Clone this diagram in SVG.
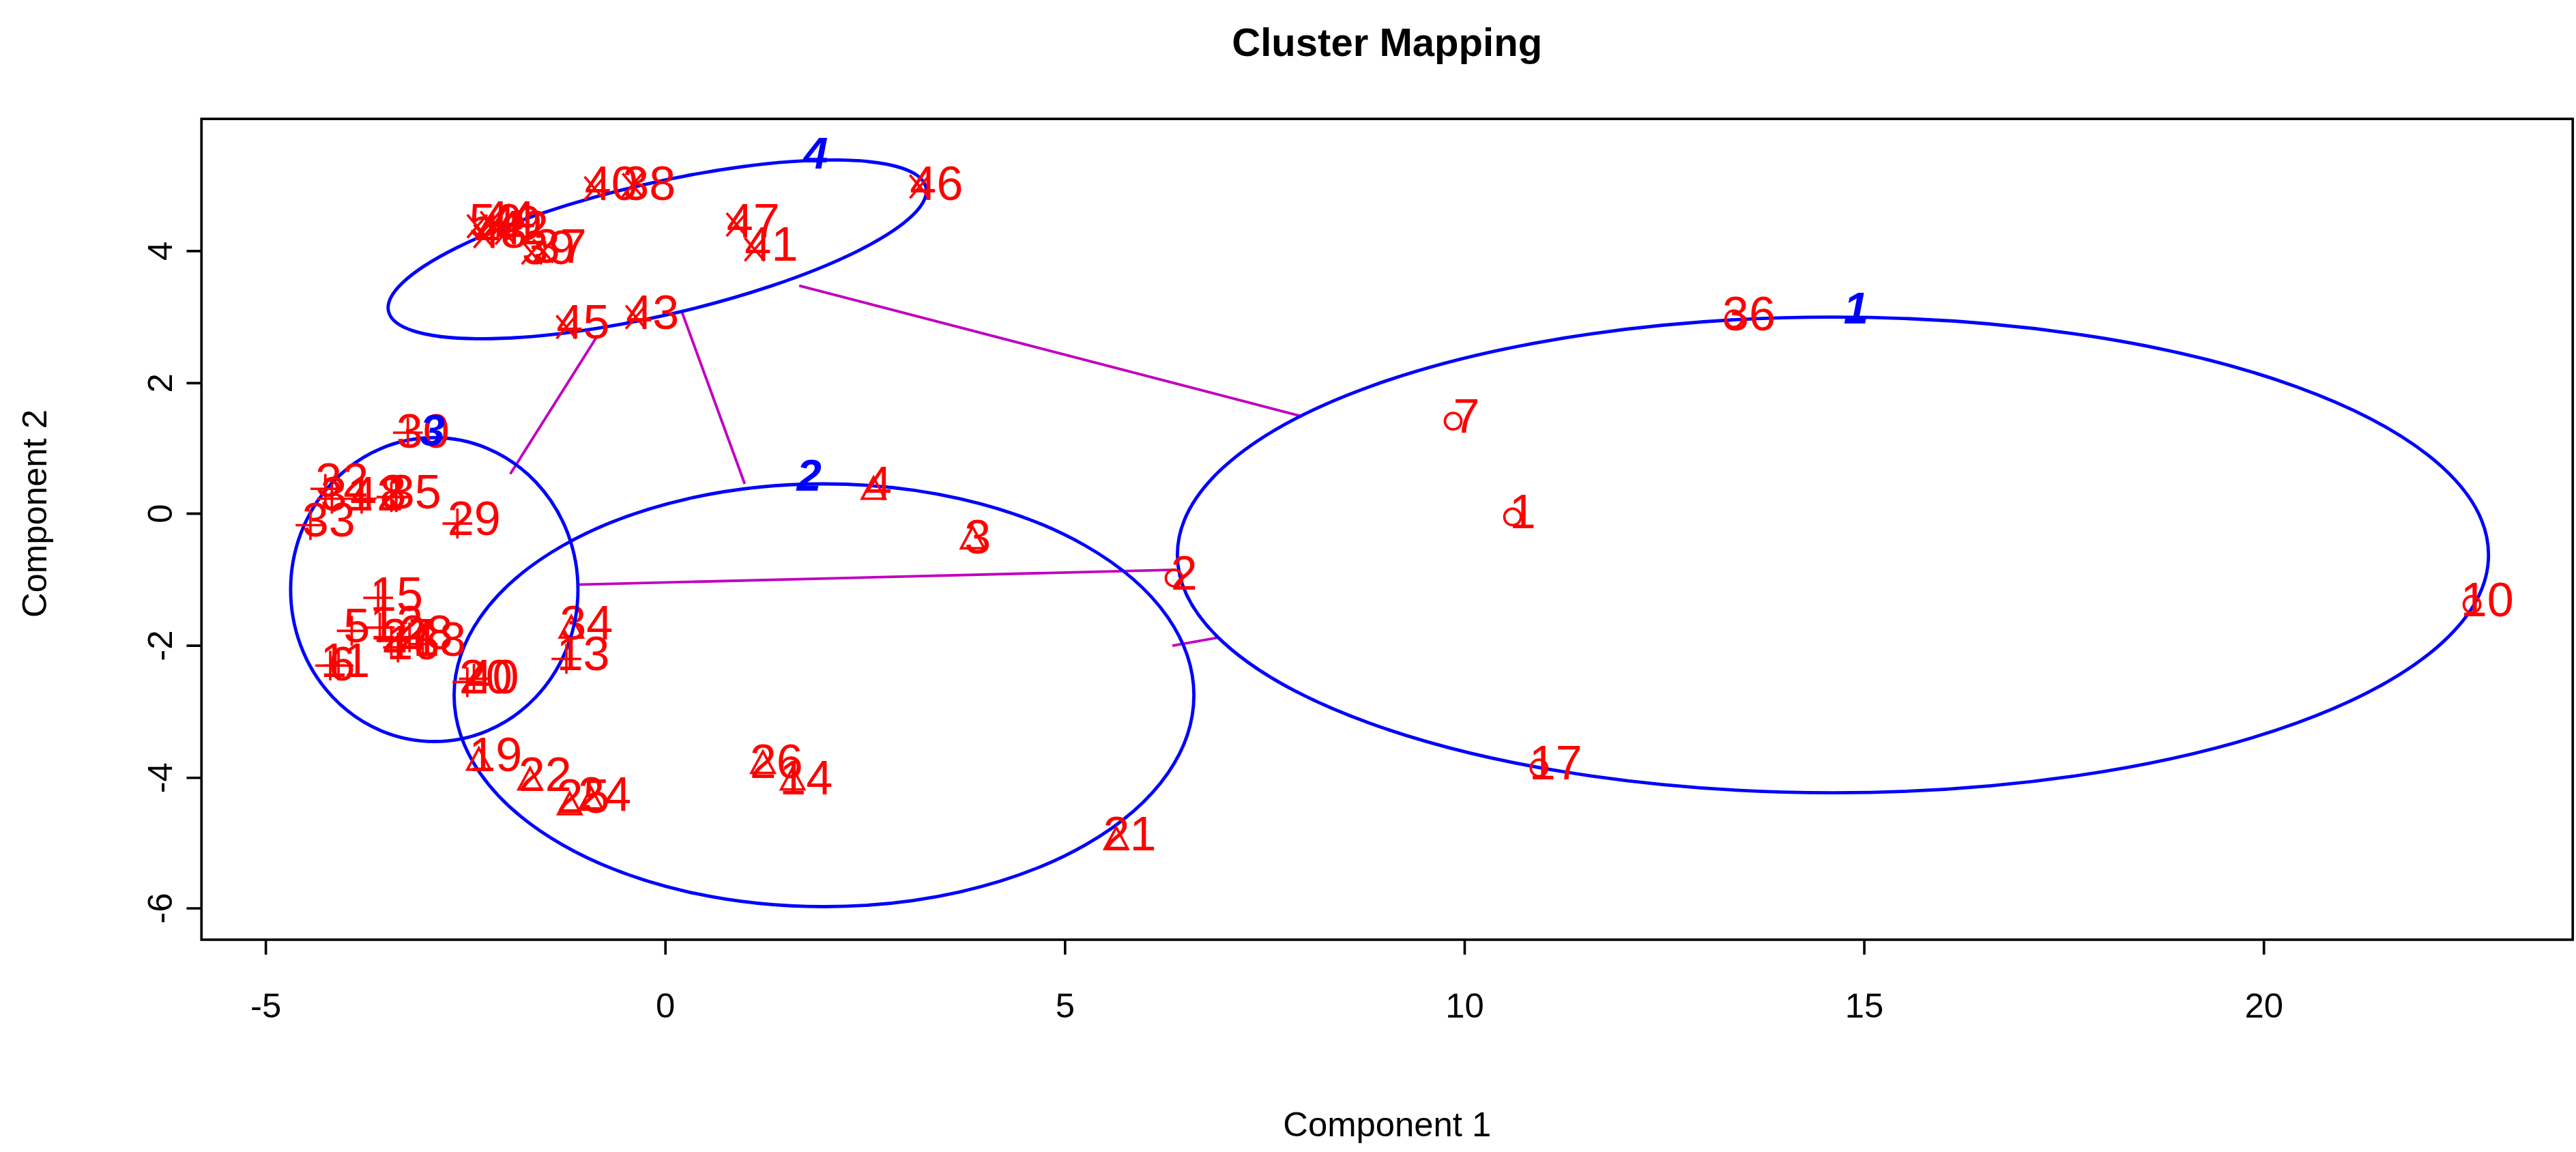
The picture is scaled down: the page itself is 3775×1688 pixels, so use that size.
<svg xmlns="http://www.w3.org/2000/svg" width="3775" height="1688" viewBox="0 0 3775 1688">
<style>
text{font-family:"Liberation Sans",Arial,sans-serif}
.t{font-size:24px;font-weight:bold;text-anchor:middle}
.ax{font-size:21px;text-anchor:middle}
.tk{font-size:21px;text-anchor:middle}
.el{fill:none;stroke:#0000FF;stroke-width:2}
.cn{stroke:#C000C0;stroke-width:1.6;fill:none}
.cl{font-size:27px;font-weight:bold;font-style:italic;fill:#0000FF;text-anchor:middle}
.lb{font-size:29px;fill:#FF0000}
.m{fill:none;stroke:#FF0000;stroke-width:1.5}
.ln{stroke:#000;stroke-width:1.5;fill:none}
</style>
<defs>
<circle id="mo" class="m" r="5"/>
<path id="mt" class="m" d="M-7,6 L7,6 L0,-7 Z"/>
<path id="mp" class="m" d="M-9,0 H9 M0,-9 V9"/>
<path id="mx" class="m" d="M-6,-7 L6,7 M-6,7 L6,-7"/>
</defs>
<rect width="3775" height="1688" fill="#fff"/>
<g transform="scale(2.4199)">
<g id="frame">
<text class="t" x="840" y="34">Cluster Mapping</text>
<rect class="ln" x="122" y="72" width="1436" height="497"/>
<path class="ln" d="M161,569 v9 M403,569 v9 M645,569 v9 M887,569 v9 M1129,569 v9 M1371,569 v9 M122,152 h-9 M122,232 h-9 M122,311 h-9 M122,391 h-9 M122,471 h-9 M122,550 h-9"/>
<text class="tk" x="161" y="616">-5</text><text class="tk" x="403" y="616">0</text><text class="tk" x="645" y="616">5</text><text class="tk" x="887" y="616">10</text><text class="tk" x="1129" y="616">15</text><text class="tk" x="1371" y="616">20</text>
<text class="tk" transform="translate(104,152) rotate(-90)">4</text>
<text class="tk" transform="translate(104,232) rotate(-90)">2</text>
<text class="tk" transform="translate(104,311) rotate(-90)">0</text>
<text class="tk" transform="translate(104,391) rotate(-90)">-2</text>
<text class="tk" transform="translate(104,471) rotate(-90)">-4</text>
<text class="tk" transform="translate(104,550) rotate(-90)">-6</text>
<text class="ax" x="840" y="688">Component 1</text>
<text class="ax" transform="translate(28,311) rotate(-90)">Component 2</text>
</g>
<g id="connectors">
<line class="cn" x1="484" y1="173" x2="788" y2="252"/>
<line class="cn" x1="362" y1="203" x2="309" y2="287"/>
<line class="cn" x1="413" y1="189" x2="451" y2="293"/>
<line class="cn" x1="350" y1="354" x2="712" y2="345"/>
<line class="cn" x1="710" y1="391" x2="738" y2="386"/>
</g>
<g id="cluster1">
<ellipse class="el" cx="1110" cy="336" rx="397" ry="144"/>
<text class="cl" x="1124" y="196">1</text>
<use href="#mo" x="1050" y="193"/><text class="lb" x="1043" y="200">36</text>
<use href="#mo" x="880" y="255"/><text class="lb" x="880" y="262">7</text>
<use href="#mo" x="916" y="313"/><text class="lb" x="914" y="320">1</text>
<use href="#mo" x="711" y="350"/><text class="lb" x="709" y="357">2</text>
<use href="#mo" x="1497" y="366"/><text class="lb" x="1490" y="373">10</text>
<use href="#mo" x="932" y="465"/><text class="lb" x="926" y="472">17</text>
</g>
<g id="cluster2">
<ellipse class="el" cx="499" cy="421" rx="224" ry="128"/>
<text class="cl" x="490" y="297">2</text>
<use href="#mt" x="529" y="296"/><text class="lb" x="524" y="303">4</text>
<use href="#mt" x="589" y="326"/><text class="lb" x="584" y="335">3</text>
<use href="#mt" x="346" y="380"/><text class="lb" x="339" y="387">34</text>
<use href="#mt" x="290" y="460"/><text class="lb" x="284" y="467">19</text>
<use href="#mt" x="321" y="472"/><text class="lb" x="314" y="479">22</text>
<use href="#mt" x="345" y="487"/><text class="lb" x="337" y="492">25</text>
<use href="#mt" x="358" y="484"/><text class="lb" x="350" y="491">24</text>
<use href="#mt" x="462" y="462"/><text class="lb" x="454" y="471">26</text>
<use href="#mt" x="480" y="472"/><text class="lb" x="472" y="481">14</text>
<use href="#mt" x="676" y="508"/><text class="lb" x="668" y="515">21</text>
</g>
<g id="cluster3">
<ellipse class="el" cx="263" cy="357" rx="87" ry="92"/>
<use href="#mp" x="247" y="262"/><text class="lb" x="240" y="271">30</text>
<text class="cl" x="262" y="270">3</text>
<use href="#mp" x="197" y="296"/><text class="lb" x="191" y="301">32</text>
<use href="#mp" x="201" y="302"/><text class="lb" x="194" y="309">31</text>
<use href="#mp" x="219" y="302"/><text class="lb" x="212" y="309">42</text>
<use href="#mp" x="237" y="301"/><text class="lb" x="230" y="308">8</text>
<use href="#mp" x="240" y="301"/><text class="lb" x="235" y="308">35</text>
<use href="#mp" x="188" y="318"/><text class="lb" x="183" y="325">33</text>
<use href="#mp" x="277" y="317"/><text class="lb" x="271" y="324">29</text>
<use href="#mp" x="229" y="362"/><text class="lb" x="224" y="370">15</text>
<use href="#mp" x="213" y="382"/><text class="lb" x="208" y="389">5</text>
<use href="#mp" x="230" y="380"/><text class="lb" x="224" y="387">12</text>
<use href="#mp" x="237" y="388"/><text class="lb" x="231" y="395">27</text>
<use href="#mp" x="248" y="386"/><text class="lb" x="242" y="393">28</text>
<use href="#mp" x="256" y="390"/><text class="lb" x="250" y="397">18</text>
<use href="#mp" x="241" y="392"/><text class="lb" x="234" y="399">16</text>
<use href="#mp" x="200" y="403"/><text class="lb" x="194" y="410">11</text>
<use href="#mp" x="205" y="403"/><text class="lb" x="199" y="412">6</text>
<use href="#mp" x="283" y="413"/><text class="lb" x="278" y="420">20</text>
<use href="#mp" x="287" y="411"/><text class="lb" x="282" y="420">40</text>
<use href="#mp" x="343" y="399"/><text class="lb" x="337" y="406">13</text>
</g>
<g id="cluster4">
<ellipse class="el" cx="398" cy="151" rx="167" ry="40" transform="rotate(-13 398 151)"/>
<text class="cl" x="494" y="102">4</text>
<use href="#mx" x="360" y="114"/><text class="lb" x="354" y="121">40</text>
<use href="#mx" x="383" y="112"/><text class="lb" x="377" y="121">38</text>
<use href="#mx" x="557" y="113"/><text class="lb" x="551" y="121">46</text>
<use href="#mx" x="446" y="136"/><text class="lb" x="440" y="144">47</text>
<use href="#mx" x="457" y="151"/><text class="lb" x="451" y="158">41</text>
<use href="#mx" x="289" y="137"/><text class="lb" x="284" y="144">50</text>
<use href="#mx" x="297" y="135"/><text class="lb" x="292" y="142">44</text>
<use href="#mx" x="302" y="138"/><text class="lb" x="296" y="145">49</text>
<use href="#mx" x="293" y="143"/><text class="lb" x="287" y="150">48</text>
<use href="#mx" x="306" y="141"/><text class="lb" x="300" y="148">42</text>
<use href="#mx" x="322" y="153"/><text class="lb" x="316" y="160">39</text>
<use href="#mx" x="329" y="152"/><text class="lb" x="323" y="159">37</text>
<use href="#mx" x="343" y="198"/><text class="lb" x="337" y="205">45</text>
<use href="#mx" x="385" y="192"/><text class="lb" x="379" y="199">43</text>
</g>
</g>
</svg>
